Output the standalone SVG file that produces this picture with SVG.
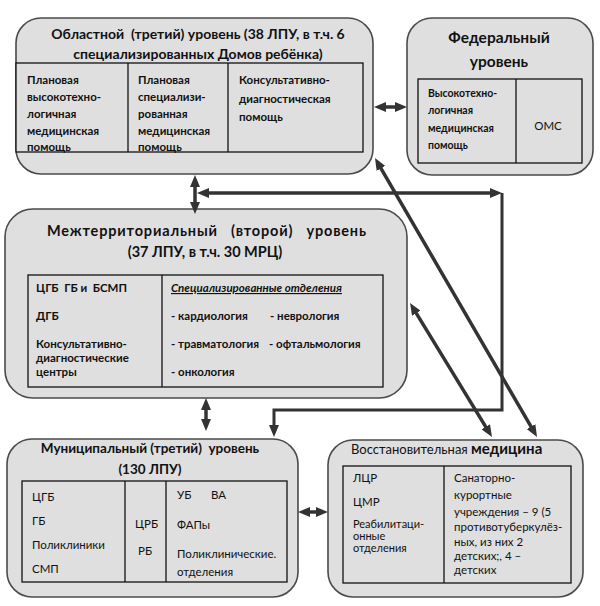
<svg xmlns="http://www.w3.org/2000/svg" width="600" height="606" viewBox="0 0 600 606">
<style>
.box{fill:#dfdfdf;stroke:#4a4a4a;stroke-width:1.6}
.tbl{fill:#dfdfdf;stroke:#111;stroke-width:1.3}
.div{stroke:#111;stroke-width:1.3}
text{font-family:Lato,"Open Sans","Liberation Sans",sans-serif;fill:#111}
.t{font-size:13.5px;font-weight:bold}
.b{font-size:11.5px;font-weight:bold}
.n{font-size:11.5px}
.c{text-anchor:middle}
.ar{fill:none;stroke:#333;stroke-width:3.5}
</style>
<defs>
<marker id="ah" viewBox="0 0 12 10" refX="3" refY="5" markerWidth="12" markerHeight="10" markerUnits="userSpaceOnUse" orient="auto-start-reverse">
<path d="M0,0 L12,5 L0,10 z" fill="#333"/>
</marker>
</defs>
<rect width="600" height="606" fill="#fff"/>

<g id="oblast">
<rect class="box" x="16" y="18" width="357" height="156" rx="25"/>
<text class="t c" x="198" y="39" style="font-size:14px;white-space:pre">Областной  (третий) уровень (38 ЛПУ, в т.ч. 6</text>
<text class="t c" x="198" y="59" style="font-size:14px">специализированных Домов ребёнка)</text>
<rect class="tbl" x="16" y="63" width="347" height="89"/>
<line class="div" x1="128" y1="63" x2="128" y2="152"/>
<line class="div" x1="228" y1="63" x2="228" y2="152"/>
<text class="b" x="27" y="84">Плановая</text>
<text class="b" x="27" y="101">высокотехно-</text>
<text class="b" x="27" y="118">логичная</text>
<text class="b" x="27" y="135">медицинская</text>
<text class="b" x="27" y="151">помощь</text>
<text class="b" x="138" y="84">Плановая</text>
<text class="b" x="138" y="101">специализи-</text>
<text class="b" x="138" y="118">рованная</text>
<text class="b" x="138" y="135">медицинская</text>
<text class="b" x="138" y="151">помощь</text>
<text class="b" x="239" y="84">Консультативно-</text>
<text class="b" x="239" y="103">диагностическая</text>
<text class="b" x="239" y="121">помощь</text>
</g>

<g id="federal">
<rect class="box" x="407" y="18" width="186" height="157" rx="25"/>
<text class="c" x="499" y="43" style="font-size:15.5px;font-weight:bold">Федеральный</text>
<text class="c" x="499" y="67" style="font-size:15.5px;font-weight:bold">уровень</text>
<rect class="tbl" x="418" y="79" width="164" height="84"/>
<line class="div" x1="516" y1="79" x2="516" y2="163"/>
<text class="b" x="428" y="97" style="font-size:10.5px">Высокотехно-</text>
<text class="b" x="428" y="114" style="font-size:10.5px">логичная</text>
<text class="b" x="428" y="132" style="font-size:10.5px">медицинская</text>
<text class="b" x="428" y="149" style="font-size:10.5px">помощь</text>
<text class="n c" x="548" y="130">ОМС</text>
</g>

<g id="mezhterr">
<rect class="box" x="5" y="209" width="402" height="189" rx="28"/>
<text class="t" x="47" y="236" style="font-size:14.5px;white-space:pre" textLength="319" lengthAdjust="spacing">Межтерриториальный   (второй)   уровень</text>
<text class="t c" x="205" y="257" style="font-size:14.5px">(37 ЛПУ, в т.ч. 30 МРЦ)</text>
<rect class="tbl" x="28" y="275" width="355" height="112"/>
<line class="div" x1="162" y1="275" x2="162" y2="387"/>
<text class="b" x="36" y="292" style="white-space:pre">ЦГБ  ГБ и  БСМП</text>
<text class="b" x="36" y="320">ДГБ</text>
<text class="b" x="36" y="348">Консультативно-</text>
<text class="b" x="36" y="362">диагностические</text>
<text class="b" x="36" y="376">центры</text>
<text class="b" x="171" y="292" style="font-style:italic;text-decoration:underline">Специализированные отделения</text>
<text class="b" x="171" y="320">- кардиология</text>
<text class="b" x="270" y="320">- неврология</text>
<text class="b" x="171" y="348">- травматология</text>
<text class="b" x="269" y="348">- офтальмология</text>
<text class="b" x="171" y="376">- онкология</text>
</g>

<g id="munic">
<rect class="box" x="7" y="439" width="291" height="158" rx="25"/>
<text class="t c" x="150" y="453" style="white-space:pre">Муниципальный (третий)  уровень</text>
<text class="t c" x="150" y="474">(130 ЛПУ)</text>
<rect class="tbl" x="22" y="481" width="265" height="101"/>
<line class="div" x1="125" y1="481" x2="125" y2="582"/>
<line class="div" x1="166" y1="481" x2="166" y2="582"/>
<text class="n" x="32" y="501">ЦГБ</text>
<text class="n" x="32" y="525">ГБ</text>
<text class="n" x="32" y="549">Поликлиники</text>
<text class="n" x="32" y="573">СМП</text>
<text class="n" x="135" y="528">ЦРБ</text>
<text class="n" x="138" y="555">РБ</text>
<text class="n" x="177" y="499">УБ</text>
<text class="n" x="211" y="499">ВА</text>
<text class="n" x="177" y="529">ФАПы</text>
<text class="n" x="177" y="558">Поликлинические.</text>
<text class="n" x="177" y="576">отделения</text>
</g>

<g id="vosst">
<rect class="box" x="328" y="440" width="255" height="157" rx="25"/>
<text x="351" y="454" style="font-size:13px">Восстановительная <tspan style="font-size:15px;font-weight:bold">медицина</tspan></text>
<rect class="tbl" x="343" y="466" width="228" height="117"/>
<line class="div" x1="444" y1="466" x2="444" y2="583"/>
<text class="n" x="353" y="482">ЛЦР</text>
<text class="n" x="353" y="506">ЦМР</text>
<text class="n" x="353" y="528" style="font-size:11px">Реабилитаци-</text>
<text class="n" x="353" y="540" style="font-size:11px">онные</text>
<text class="n" x="353" y="552" style="font-size:11px">отделения</text>
<text class="n" x="454" y="482">Санаторно-</text>
<text class="n" x="454" y="499">курортные</text>
<text class="n" x="454" y="516">учреждения – 9 (5</text>
<text class="n" x="454" y="531">противотуберкулёз-</text>
<text class="n" x="454" y="546">ных, из них 2</text>
<text class="n" x="454" y="560">детских;, 4 –</text>
<text class="n" x="454" y="574">детских</text>
</g>

<g id="connectors">
<line class="ar" x1="383" y1="107" x2="398" y2="107" marker-start="url(#ah)" marker-end="url(#ah)"/>
<line class="ar" x1="195" y1="184" x2="195" y2="205" marker-start="url(#ah)" marker-end="url(#ah)"/>
<line class="ar" x1="206" y1="193" x2="493" y2="193" marker-start="url(#ah)" marker-end="url(#ah)"/>
<path class="ar" style="stroke-width:3" d="M502,193 L502,410 L274,410 L274,428" marker-end="url(#ah)"/>
<line class="ar" x1="379.5" y1="165.8" x2="532.5" y2="429.2" marker-start="url(#ah)" marker-end="url(#ah)"/>
<line class="ar" x1="414.7" y1="310.7" x2="487.3" y2="429.3" marker-start="url(#ah)" marker-end="url(#ah)"/>
<line class="ar" x1="206" y1="407" x2="206" y2="422" marker-start="url(#ah)" marker-end="url(#ah)"/>
<line class="ar" x1="307" y1="512" x2="319" y2="512" marker-start="url(#ah)" marker-end="url(#ah)"/>
</g>
</svg>
